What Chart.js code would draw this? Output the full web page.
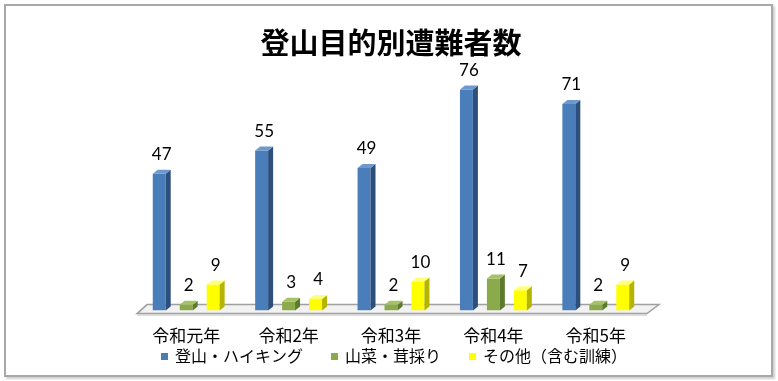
<!DOCTYPE html>
<html><head><meta charset="utf-8">
<script src="https://cdn.jsdelivr.net/npm/chart.js@4/dist/chart.umd.min.js"></script>
<style>
html,body{margin:0;padding:0;background:#fff;}
#wrap{position:relative;width:778px;height:381px;}
#frame{position:absolute;left:4px;top:4px;width:769px;height:373px;border:2px solid #a8a8a8;box-shadow:2px 2px 2px #cfcfcf;box-sizing:border-box;}
canvas{position:absolute;left:0;top:0;}
</style></head><body>
<div id="wrap"><div id="frame"></div><canvas id="c" width="778" height="381"></canvas></div>
<script>
const categories = ['令和元年','令和2年','令和3年','令和4年','令和5年'];
const hiking = [47,55,49,76,71];
const sansai = [2,3,2,11,2];
const other = [9,4,10,7,9];
const seriesNames = ['登山・ハイキング','山菜・茸採り','その他（含む訓練）'];

const JP = '"Noto Sans CJK JP", "Noto Sans CJK SC", sans-serif';
const frontColors = ['#4a7ebb','#8aaa4c','#ffff00'];
const sideColors  = ['#2c4f7c','#5e7a2c','#b5b500'];
const topColors   = ['#6f99cc','#a5c266','#ffff7a'];
const DX = 5, DY = -4;

const threeD = {
  id:'threeD',
  beforeDatasetsDraw(chart){
    const {ctx, chartArea:a, scales:{y}} = chart;
    const base = y.getPixelForValue(0);
    const fy = base + 3, by = base - 6;
    ctx.save();
    ctx.beginPath();
    ctx.moveTo(a.left+2, fy); ctx.lineTo(a.right, fy);
    ctx.lineTo(a.right+12, by); ctx.lineTo(a.left+12, by); ctx.closePath();
    ctx.fillStyle = '#f2f2f2'; ctx.fill();
    ctx.strokeStyle = '#a0a0a0'; ctx.lineWidth = 1.5; ctx.stroke();
    ctx.beginPath(); ctx.moveTo(a.left+2, fy+1.5); ctx.lineTo(a.right, fy+1.5);
    ctx.strokeStyle = '#c4c4c4'; ctx.lineWidth = 1; ctx.stroke();
    ctx.restore();
  },
  afterDatasetsDraw(chart){
    const {ctx} = chart;
    ctx.save();
    chart.data.datasets.forEach((ds, di) => {
      const meta = chart.getDatasetMeta(di);
      meta.data.forEach((el, i) => {
        const {x, y, base, width} = el.getProps(['x','y','base','width'], true);
        const l = x - width/2, r = x + width/2;
        ctx.beginPath();
        ctx.moveTo(r, y); ctx.lineTo(r+DX, y+DY); ctx.lineTo(r+DX, base+DY); ctx.lineTo(r, base); ctx.closePath();
        ctx.fillStyle = sideColors[di]; ctx.fill();
        ctx.beginPath();
        ctx.moveTo(l, y); ctx.lineTo(l+DX, y+DY); ctx.lineTo(r+DX, y+DY); ctx.lineTo(r, y); ctx.closePath();
        ctx.fillStyle = topColors[di]; ctx.fill();
        ctx.font = '17px Lato, "Open Sans", sans-serif';
        ctx.fillStyle = '#000'; ctx.textAlign = 'center'; ctx.textBaseline = 'middle';
        ctx.fillText(String(ds.data[i]), x + DX/2, y + DY - 15);
      });
    });
    ctx.restore();
  },
  afterDraw(chart){
    const {ctx} = chart;
    ctx.save();
    ctx.font = '16px ' + JP;
    const box = 7, gapBox = 7, gapItem = 28;
    const widths = seriesNames.map(t => box + gapBox + ctx.measureText(t).width);
    const total = widths.reduce((s,w)=>s+w,0) + gapItem*(seriesNames.length-1);
    let x = 394 - total/2;
    const yc = 356;
    ctx.textBaseline = 'middle'; ctx.textAlign = 'left';
    seriesNames.forEach((t, i) => {
      ctx.fillStyle = frontColors[i];
      ctx.fillRect(x, yc - 3, box, box);
      ctx.fillStyle = '#000';
      ctx.fillText(t, x + box + gapBox, yc);
      x += widths[i] + gapItem;
    });
    ctx.restore();
  }
};

new Chart(document.getElementById('c'), {
  type:'bar',
  data:{
    labels: categories,
    datasets:[
      {label: seriesNames[0], data: hiking, backgroundColor: frontColors[0]},
      {label: seriesNames[1], data: sansai, backgroundColor: frontColors[1]},
      {label: seriesNames[2], data: other, backgroundColor: frontColors[2]}
    ]
  },
  options:{
    responsive:false, animation:false,
    datasets:{bar:{categoryPercentage:0.79, barPercentage:0.48, borderWidth:0}},
    layout:{padding:{left:135, right:131, top:10, bottom:28}},
    plugins:{
      legend:{display:false}, tooltip:{enabled:false},
      title:{display:true, text:'登山目的別遭難者数', color:'#000',
        font:{family:JP, size:29, weight:'bold'}, padding:{top:16, bottom:17}}
    },
    scales:{
      x:{grid:{display:false}, border:{display:false},
         ticks:{color:'#000', font:{family:JP, size:17}, padding:7}},
      y:{display:false, min:0, max:80}
    }
  },
  plugins:[threeD]
});
</script>
</body></html>
